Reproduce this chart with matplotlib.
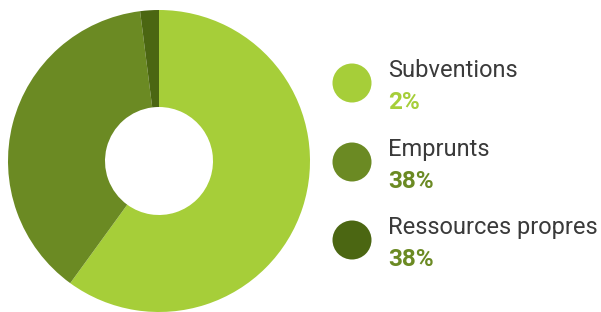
import matplotlib.pyplot as plt
from matplotlib.patches import Circle

# data
labels = ["Subventions", "Emprunts", "Ressources propres"]
pct_labels = ["2%", "38%", "38%"]
shares = [60, 38, 2]          # slice sizes as drawn
colors = ["#a6ce39", "#6b8a23", "#4b6612"]
pct_colors = ["#a6ce39", "#6b8a23", "#6b8a23"]

W, H = 601, 312
fig = plt.figure(figsize=(W / 100, H / 100), dpi=100)
ax = fig.add_axes([0, 0, 1, 1])

# donut, centred at pixel (159, 161) from top
ax.pie(shares, colors=colors, startangle=90, counterclock=False,
       radius=151, center=(159, H - 161),
       wedgeprops=dict(width=151 - 54, linewidth=0))

ax.set_xlim(0, W)
ax.set_ylim(0, H)
ax.set_aspect('auto')
ax.axis('off')

# legend drawn by hand
rows_y = [83, 162, 240]
for i, (lab, pct) in enumerate(zip(labels, pct_labels)):
    cy = H - rows_y[i]
    ax.add_patch(Circle((352, cy), 19.5, color=colors[i], lw=0))
    ax.text(388, H - (rows_y[i] - 6), lab, fontsize=17, family='Roboto',
            color='#3a3a3a', va='baseline', ha='left')
    ax.text(388, H - (rows_y[i] + 26), pct, fontsize=17.5, family='Roboto',
            fontweight='bold', color=pct_colors[i], va='baseline', ha='left')

fig.savefig('out.png', dpi=100)
